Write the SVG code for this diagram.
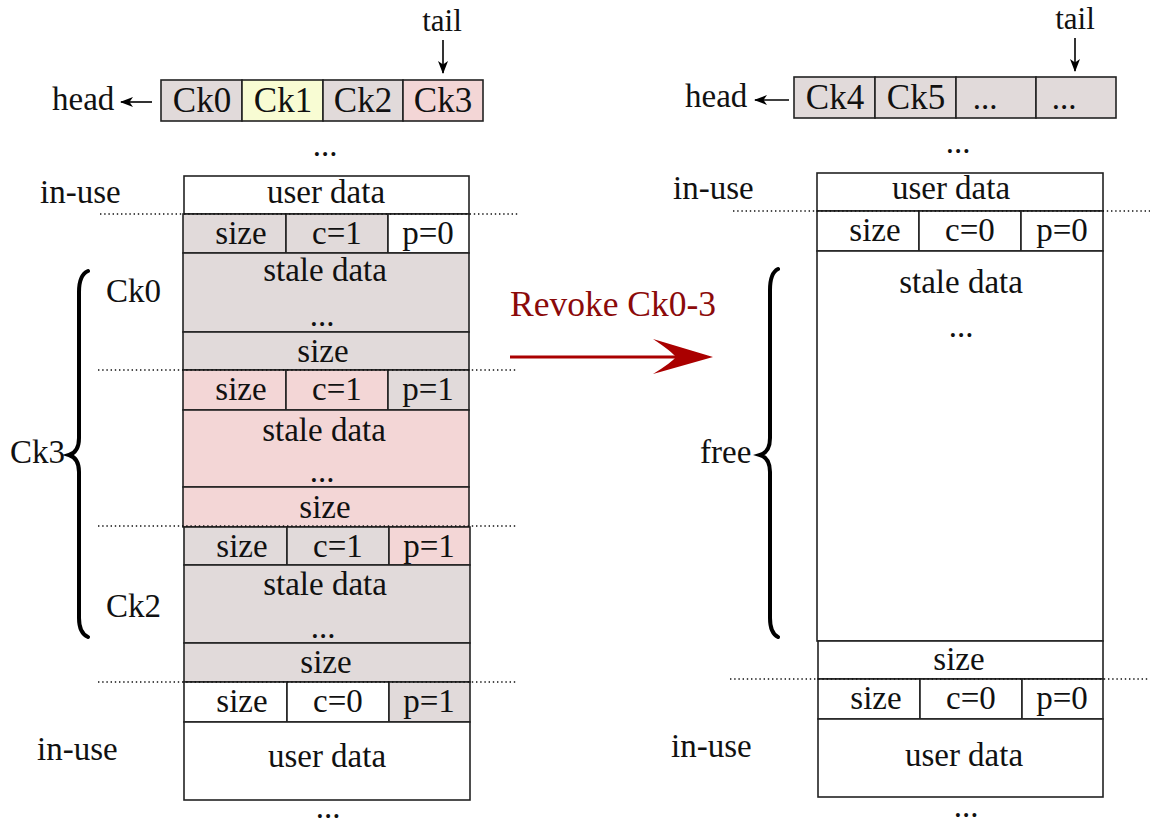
<svg xmlns="http://www.w3.org/2000/svg" width="1150" height="826" viewBox="0 0 1150 826">
<style>
text{font-family:"Liberation Serif","Times New Roman",serif;font-size:33px;fill:#111}
.c{text-anchor:middle}
.q{font-size:35px}
.b{stroke:#222;stroke-width:1.6}
.g{fill:#e1dada}
.p{fill:#f3d6d6}
.y{fill:#f8fcd3}
.w{fill:#fff}
.dot{stroke:#111;stroke-width:1.6;stroke-dasharray:1.4 2.8;fill:none}
.brace{fill:none;stroke:#000;stroke-width:4;stroke-linecap:round}
.ar{stroke:#000;stroke-width:1.6;fill:none}
</style>
<defs>
<marker id="ah" markerWidth="14" markerHeight="10" refX="12" refY="5" orient="auto" markerUnits="userSpaceOnUse">
<path d="M0,0 L13,5 L0,10 L3.5,5 z" fill="#000"/>
</marker>
</defs>

<!-- LEFT QUEUE -->
<g id="lq">
<rect class="b g" x="161" y="80" width="81" height="41"/>
<rect class="b y" x="242" y="80" width="81" height="41"/>
<rect class="b g" x="323" y="80" width="80" height="41"/>
<rect class="b p" x="403" y="80" width="80" height="41"/>
<text class="c q" x="202" y="112">Ck0</text>
<text class="c q" x="283" y="112">Ck1</text>
<text class="c q" x="363" y="112">Ck2</text>
<text class="c q" x="443" y="112">Ck3</text>
</g>
<g id="lhead"><text x="52" y="110">head</text></g>
<g id="ltail"><text class="c" x="442" y="31" style="font-size:31px">tail</text></g>
<text class="c" x="325" y="156">...</text>

<!-- LEFT COLUMN -->
<g id="l-user1"><rect class="b w" x="184" y="176" width="285" height="38"/><text class="c" x="326" y="203">user data</text></g>
<g id="l-h1">
<rect class="b g" x="183" y="214" width="103" height="39"/><rect class="b g" x="286" y="214" width="102" height="39"/><rect class="b w" x="388" y="214" width="81" height="39"/>
<text class="c" x="241" y="244">size</text><text class="c" x="337" y="244">c=1</text><text class="c" x="428" y="244">p=0</text>
</g>
<g id="l-s0"><rect class="b g" x="183" y="253" width="286" height="79"/><text class="c" x="325" y="281">stale data</text><text class="c" x="322" y="326">...</text></g>
<g id="l-f0"><rect class="b g" x="183" y="332" width="286" height="38"/><text class="c" x="323" y="362">size</text></g>
<g id="l-h3">
<rect class="b p" x="183" y="370" width="103" height="40"/><rect class="b p" x="286" y="370" width="102" height="40"/><rect class="b g" x="388" y="370" width="81" height="40"/>
<text class="c" x="241" y="400">size</text><text class="c" x="337" y="400">c=1</text><text class="c" x="428" y="400">p=1</text>
</g>
<g id="l-s3"><rect class="b p" x="183" y="410" width="286" height="77"/><text class="c" x="324" y="441">stale data</text><text class="c" x="322" y="482">...</text></g>
<g id="l-f3"><rect class="b p" x="183" y="487" width="286" height="40"/><text class="c" x="325" y="518">size</text></g>
<g id="l-h2">
<rect class="b g" x="184" y="527" width="103" height="38"/><rect class="b g" x="287" y="527" width="102" height="38"/><rect class="b p" x="389" y="527" width="81" height="38"/>
<text class="c" x="242" y="557">size</text><text class="c" x="338" y="557">c=1</text><text class="c" x="429" y="557">p=1</text>
</g>
<g id="l-s2"><rect class="b g" x="184" y="565" width="286" height="78"/><text class="c" x="325" y="595">stale data</text><text class="c" x="323" y="638">...</text></g>
<g id="l-f2"><rect class="b g" x="184" y="643" width="286" height="39"/><text class="c" x="326" y="673">size</text></g>
<g id="l-h4">
<rect class="b w" x="184" y="682" width="103" height="40"/><rect class="b w" x="287" y="682" width="102" height="40"/><rect class="b g" x="389" y="682" width="81" height="40"/>
<text class="c" x="242" y="712">size</text><text class="c" x="338" y="712">c=0</text><text class="c" x="429" y="712">p=1</text>
</g>
<g id="l-user2"><rect class="b w" x="184" y="722" width="286" height="78"/><text class="c" x="327" y="767">user data</text></g>
<text class="c" x="328" y="818">...</text>

<g id="l-labels">
<text x="40" y="203">in-use</text>
<text x="106" y="302">Ck0</text>
<text x="10" y="463">Ck3</text>
<text x="106" y="617">Ck2</text>
<text x="37" y="760">in-use</text>
</g>
<path class="brace" d="M88 271 Q79 275 79 292 L79 438 Q79 452 69 455 Q79 458 79 472 L79 618 Q79 633 88 637"/>

<!-- RIGHT QUEUE -->
<g id="rq">
<rect class="b g" x="794" y="77" width="81" height="41"/>
<rect class="b g" x="875" y="77" width="81" height="41"/>
<rect class="b g" x="956" y="77" width="80" height="41"/>
<rect class="b g" x="1036" y="77" width="80" height="41"/>
<text class="c q" x="835" y="109">Ck4</text>
<text class="c q" x="916" y="109">Ck5</text>
<text class="c" x="985" y="109">...</text>
<text class="c" x="1064" y="109">...</text>
</g>
<g id="rhead"><text x="685" y="107">head</text></g>
<g id="rtail"><text class="c" x="1075" y="29" style="font-size:31px">tail</text></g>
<text class="c" x="958" y="153">...</text>

<!-- RIGHT COLUMN -->
<g id="r-user1"><rect class="b w" x="817" y="173" width="286" height="38"/><text class="c" x="951" y="199">user data</text></g>
<g id="r-h1">
<rect class="b w" x="817" y="211" width="102" height="40"/><rect class="b w" x="919" y="211" width="102" height="40"/><rect class="b w" x="1021" y="211" width="82" height="40"/>
<text class="c" x="875" y="241">size</text><text class="c" x="970" y="241">c=0</text><text class="c" x="1062" y="241">p=0</text>
</g>
<g id="r-free"><rect class="b w" x="817" y="251" width="286" height="390"/><text class="c" x="961" y="293">stale data</text><text class="c" x="961" y="337">...</text></g>
<g id="r-f"><rect class="b w" x="818" y="641" width="285" height="38"/><text class="c" x="959" y="670">size</text></g>
<g id="r-h2">
<rect class="b w" x="818" y="679" width="102" height="40"/><rect class="b w" x="920" y="679" width="102" height="40"/><rect class="b w" x="1022" y="679" width="81" height="40"/>
<text class="c" x="876" y="709">size</text><text class="c" x="971" y="709">c=0</text><text class="c" x="1062" y="709">p=0</text>
</g>
<g id="r-user2"><rect class="b w" x="818" y="719" width="285" height="78"/><text class="c" x="964" y="766">user data</text></g>
<text class="c" x="966" y="817">...</text>

<g id="r-labels">
<text x="673" y="199">in-use</text>
<text x="700" y="463">free</text>
<text x="671" y="757">in-use</text>
</g>
<path class="brace" d="M778 269 Q770 273 770 290 L770 438 Q770 452 760 455 Q770 458 770 472 L770 618 Q770 633 778 637"/>

<!-- dotted separators -->
<g id="separators">
<line class="dot" x1="100" y1="214" x2="518" y2="214"/>
<line class="dot" x1="98" y1="370" x2="518" y2="370"/>
<line class="dot" x1="98" y1="526" x2="516" y2="526"/>
<line class="dot" x1="98" y1="682" x2="516" y2="682"/>
<line class="dot" x1="733" y1="211" x2="1150" y2="211"/>
<line class="dot" x1="730" y1="679" x2="1150" y2="679"/>
</g>

<!-- connectors -->
<g id="connectors">
<line class="ar" x1="152" y1="102" x2="121" y2="102" marker-end="url(#ah)"/>
<line class="ar" x1="443" y1="40" x2="443" y2="73" marker-end="url(#ah)"/>
<line class="ar" x1="789" y1="100" x2="755" y2="100" marker-end="url(#ah)"/>
<line class="ar" x1="1075" y1="38" x2="1075" y2="71" marker-end="url(#ah)"/>
<g id="revoke">
<line x1="510" y1="357" x2="676" y2="357" stroke="#aa0000" stroke-width="3.2"/>
<path d="M713 357 L653 339 Q671 351 676 357 Q671 363 653 374 Z" fill="#aa0000"/>
<text x="510" y="316" style="font-size:35.5px;fill:#8b0a0a">Revoke Ck0-3</text>
</g>
</g>
</svg>
